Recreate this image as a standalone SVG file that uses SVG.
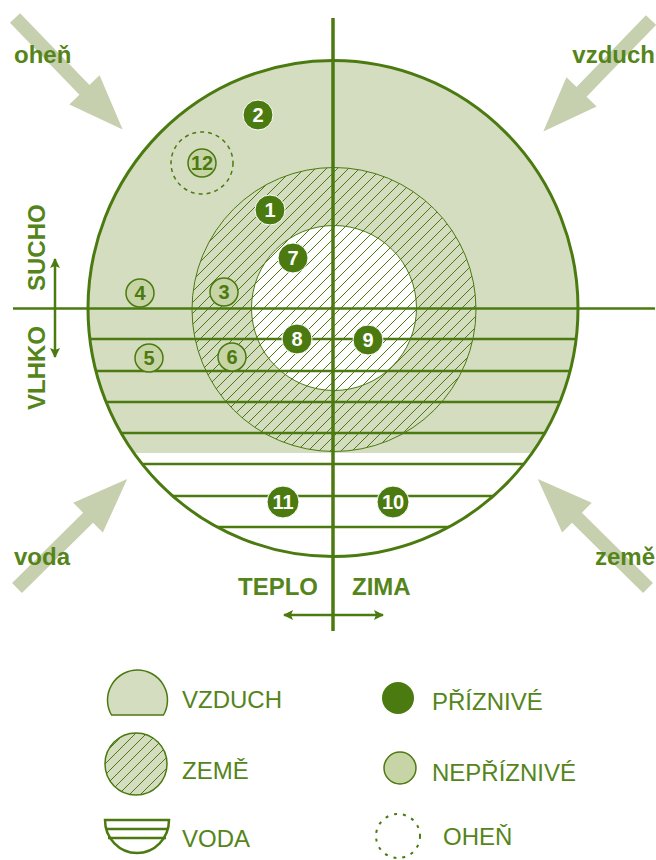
<svg xmlns="http://www.w3.org/2000/svg" width="656" height="860" viewBox="0 0 656 860">
<style>
.lbl{font-family:"Liberation Sans",Arial,sans-serif;font-weight:bold;font-size:24px;fill:#55851a}
.leg{font-family:"Liberation Sans",Arial,sans-serif;font-size:24px;fill:#55851a}
.num{font-family:"Liberation Sans",Arial,sans-serif;font-weight:bold;font-size:20px;text-anchor:middle}
.fav circle{fill:#4b7a10;stroke:#ffffff;stroke-width:1}
.fav text{fill:#ffffff}
.unf circle{fill:#c7d4a6;stroke:#4b7a10;stroke-width:1.5}
.unf text{fill:#4b7a10}
.wl{stroke:#4b7a10;stroke-width:2.5;fill:none}
.ax{stroke:#4b7a10;fill:none}
.big{fill:#c6cfae}
</style>
<defs>
<pattern id="hatch" patternUnits="userSpaceOnUse" width="11" height="11">
<path d="M-1,1 L1,-1 M0,11 L11,0 M10,12 L12,10" stroke="#4b7a10" stroke-width="1"/>
</pattern>
<clipPath id="outer"><ellipse cx="333" cy="308.5" rx="245" ry="248"/></clipPath>
<path id="bigArrow" d="M0,-7 L100,-7 L100,-21 L155,0 L100,21 L100,7 L0,7 Z"/>
<marker id="ah" viewBox="0 0 10 10" refX="9" refY="5" markerWidth="10" markerHeight="10" markerUnits="userSpaceOnUse" orient="auto-start-reverse">
<path d="M0,0 L10,5 L0,10 L2,5 Z" fill="#4b7a10"/>
</marker>
</defs>
<rect width="656" height="860" fill="#ffffff"/>

<g id="connectors">
<use href="#bigArrow" class="big" transform="translate(15,18) rotate(46)"/>
<use href="#bigArrow" class="big" transform="translate(651,20) rotate(134)"/>
<use href="#bigArrow" class="big" transform="translate(17,588) rotate(-44.7)"/>
<use href="#bigArrow" class="big" transform="translate(648,588) rotate(-135.3)"/>
</g>

<g id="vzduch-region">
<ellipse cx="333" cy="308.5" rx="245" ry="248" fill="#ffffff"/>
<rect x="80" y="50" width="510" height="403" fill="#d4ddbf" clip-path="url(#outer)"/>
</g>
<g id="zeme-region">
<circle cx="334" cy="309.5" r="142" fill="#d4ddbf"/>
<circle cx="334" cy="309.5" r="142" fill="url(#hatch)" stroke="#4b7a10" stroke-width="1"/>
<circle cx="334" cy="308" r="82.5" fill="#ffffff"/>
<circle cx="334" cy="308" r="82.5" fill="url(#hatch)" stroke="#4b7a10" stroke-width="1"/>
</g>
<g id="voda-region" clip-path="url(#outer)">
<line class="wl" x1="80" y1="339" x2="590" y2="339"/>
<line class="wl" x1="80" y1="371" x2="590" y2="371"/>
<line class="wl" x1="80" y1="402" x2="590" y2="402" stroke-width="4"/>
<line class="wl" x1="80" y1="433" x2="590" y2="433"/>
<line class="wl" x1="80" y1="464" x2="590" y2="464"/>
<line class="wl" x1="80" y1="496" x2="590" y2="496"/>
<line class="wl" x1="80" y1="527" x2="590" y2="527"/>
</g>
<ellipse cx="333" cy="308.5" rx="245" ry="248" fill="none" stroke="#4b7a10" stroke-width="3"/>

<g id="axes">
<line class="ax" x1="333" y1="18" x2="333" y2="631" stroke-width="3.5"/>
<line class="ax" x1="13" y1="308.5" x2="655" y2="308.5" stroke-width="2.5"/>
<line class="ax" x1="55" y1="259" x2="55" y2="357" stroke-width="2.5" marker-start="url(#ah)" marker-end="url(#ah)"/>
<line class="ax" x1="284" y1="615" x2="383" y2="615" stroke-width="2.5" marker-start="url(#ah)" marker-end="url(#ah)"/>
</g>

<g id="labels">
<text class="lbl" x="14" y="63">oheň</text>
<text class="lbl" x="655" y="63" text-anchor="end">vzduch</text>
<text class="lbl" x="14" y="565">voda</text>
<text class="lbl" x="655" y="565" text-anchor="end">země</text>
<text class="lbl" transform="translate(45,291) rotate(-90)">SUCHO</text>
<text class="lbl" transform="translate(45,410) rotate(-90)">VLHKO</text>
<text class="lbl" x="238" y="595">TEPLO</text>
<text class="lbl" x="352" y="595">ZIMA</text>
</g>

<g id="ohen-12">
<circle cx="202" cy="163" r="31" fill="none" stroke="#4b7a10" stroke-width="1.5" stroke-dasharray="4 4"/>
</g>
<g id="n1" class="fav"><circle cx="270" cy="210" r="15"/><text class="num" x="270" y="217">1</text></g>
<g id="n2" class="fav"><circle cx="258" cy="115" r="15"/><text class="num" x="258" y="122">2</text></g>
<g id="n7" class="fav"><circle cx="293" cy="258" r="15"/><text class="num" x="293" y="265">7</text></g>
<g id="n8" class="fav"><circle cx="297" cy="339" r="15"/><text class="num" x="297" y="346">8</text></g>
<g id="n9" class="fav"><circle cx="368" cy="340" r="15"/><text class="num" x="368" y="347">9</text></g>
<g id="n10" class="fav"><circle cx="393" cy="502" r="16"/><text class="num" x="393" y="509">10</text></g>
<g id="n11" class="fav"><circle cx="283" cy="502" r="16"/><text class="num" x="283" y="509">11</text></g>
<g id="n3" class="unf"><circle cx="224" cy="292" r="14"/><text class="num" x="224" y="299">3</text></g>
<g id="n4" class="unf"><circle cx="140" cy="293" r="14"/><text class="num" x="140" y="300">4</text></g>
<g id="n5" class="unf"><circle cx="149" cy="358" r="14"/><text class="num" x="149" y="365">5</text></g>
<g id="n6" class="unf"><circle cx="232" cy="357" r="14"/><text class="num" x="232" y="364">6</text></g>
<g id="n12" class="unf"><circle cx="202" cy="163" r="14"/><text class="num" x="202" y="170">12</text></g>

<g id="legend-vzduch">
<path d="M111.5,715 A30,30 0 1 1 163.5,715 Z" fill="#d4ddbf" stroke="#4b7a10" stroke-width="1.5"/>
<text class="leg" x="182" y="708">VZDUCH</text>
</g>
<g id="legend-zeme">
<circle cx="136" cy="764" r="31" fill="#d4ddbf"/>
<circle cx="136" cy="764" r="31" fill="url(#hatch)" stroke="#4b7a10" stroke-width="1.5"/>
<text class="leg" x="182" y="779">ZEMĚ</text>
</g>
<g id="legend-voda">
<path d="M105,820 L169,820 A32,33 0 0 1 105,820 Z" fill="#ffffff" stroke="#4b7a10" stroke-width="2.5"/>
<line class="wl" x1="106" y1="829" x2="168" y2="829" stroke-width="3"/>
<line class="wl" x1="108" y1="838" x2="166" y2="838" stroke-width="3"/>
<text class="leg" x="182" y="847">VODA</text>
</g>
<g id="legend-priznive">
<circle cx="398" cy="698" r="16" fill="#4b7a10"/>
<text class="leg" x="432" y="710">PŘÍZNIVÉ</text>
</g>
<g id="legend-nepriznive">
<circle cx="400" cy="768" r="16" fill="#c7d4a6" stroke="#4b7a10" stroke-width="1.5"/>
<text class="leg" x="432" y="781">NEPŘÍZNIVÉ</text>
</g>
<g id="legend-ohen">
<circle cx="398" cy="836" r="22" fill="none" stroke="#4b7a10" stroke-width="2" stroke-dasharray="3 6"/>
<text class="leg" x="443" y="845">OHEŇ</text>
</g>
</svg>
